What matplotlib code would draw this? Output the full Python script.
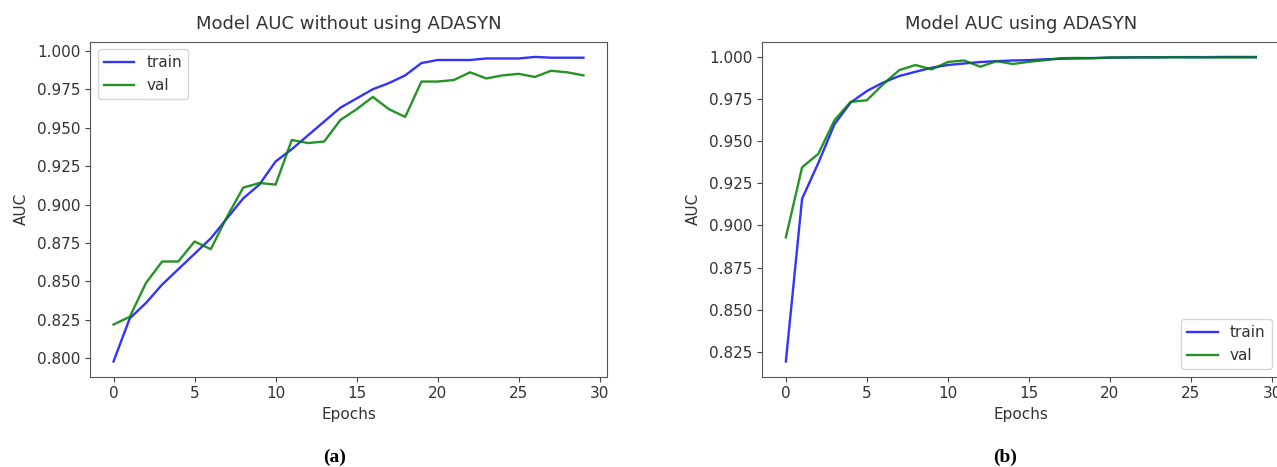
import matplotlib
matplotlib.use("Agg")
import matplotlib.pyplot as plt
import numpy as np

epochs = list(range(30))

train_a = [0.798, 0.826, 0.836, 0.848, 0.858, 0.868, 0.878, 0.891, 0.904, 0.913,
           0.928, 0.936, 0.945, 0.954, 0.963, 0.969, 0.975, 0.979, 0.984, 0.992,
           0.994, 0.994, 0.994, 0.995, 0.995, 0.995, 0.996, 0.9955, 0.9955, 0.9955]
val_a = [0.822, 0.827, 0.849, 0.863, 0.863, 0.876, 0.871, 0.892, 0.911, 0.914,
         0.913, 0.942, 0.940, 0.941, 0.955, 0.962, 0.970, 0.962, 0.957, 0.980,
         0.980, 0.981, 0.986, 0.982, 0.984, 0.985, 0.983, 0.987, 0.986, 0.984]

train_b = [0.8194, 0.9158, 0.937, 0.960, 0.9729, 0.9797, 0.9847, 0.9886, 0.9911, 0.9935,
           0.9951, 0.996, 0.9969, 0.9974, 0.9978, 0.998, 0.9985, 0.9988, 0.999, 0.9992,
           0.9995, 0.9996, 0.9997, 0.9997, 0.9998, 0.9998, 0.9998, 0.9999, 0.9999, 0.9999]
val_b = [0.893, 0.9345, 0.9424, 0.9624, 0.9733, 0.9742, 0.9837, 0.9921, 0.9951, 0.9925,
         0.9969, 0.9978, 0.9941, 0.9974, 0.9957, 0.997, 0.998, 0.9992, 0.9993, 0.9992,
         0.9995, 0.9996, 0.9996, 0.9996, 0.9997, 0.9996, 0.9996, 0.9996, 0.9996, 0.9996]

titles = ["Model AUC without using ADASYN", "Model AUC using ADASYN"]
captions = ["(a)", "(b)"]
legend_locs = ["upper left", "lower right"]

plt.rcParams['font.family'] = ['DejaVu Sans']
plt.rcParams['font.size'] = 11
text_col = '#333333'
plt.rcParams['text.color'] = text_col
plt.rcParams['axes.labelcolor'] = text_col
plt.rcParams['xtick.color'] = '#444444'
plt.rcParams['ytick.color'] = '#444444'
plt.rcParams['xtick.labelcolor'] = text_col
plt.rcParams['ytick.labelcolor'] = text_col
plt.rcParams['xtick.labelsize'] = 11
plt.rcParams['ytick.labelsize'] = 11

fig = plt.figure(figsize=(12.77, 4.67), dpi=100)
positions = [[0.0705, 0.1934, 0.4048, 0.7173], [0.597, 0.1934, 0.4048, 0.7173]]
data = [(train_a, val_a), (train_b, val_b)]
caption_x = [335 / 1277, 1005 / 1277]

for i in range(2):
    ax = fig.add_axes(positions[i])
    tr, va = data[i]
    ax.plot(epochs, tr, color='blue', alpha=0.8, lw=1.7, label='train')
    ax.plot(epochs, va, color='green', alpha=0.85, lw=1.7, label='val')
    ax.set_title(titles[i], fontsize=13, color=text_col, pad=9)
    ax.set_xlabel('Epochs', fontsize=11)
    ax.set_ylabel('AUC', fontsize=11, labelpad=6)
    ax.set_xticks([0, 5, 10, 15, 20, 25, 30])
    ax.yaxis.set_major_formatter(matplotlib.ticker.FormatStrFormatter('%.3f'))
    ax.yaxis.set_major_locator(matplotlib.ticker.MultipleLocator(0.025))
    for s in ax.spines.values():
        s.set_color('#555555')
    ax.legend(loc=legend_locs[i], fontsize=11)
    fig.text(caption_x[i], 1 - 457 / 467, captions[i], ha='center', va='center',
             fontsize=14, fontweight='bold', family='Liberation Serif', color='black')

fig.savefig('out.png', dpi=100)
